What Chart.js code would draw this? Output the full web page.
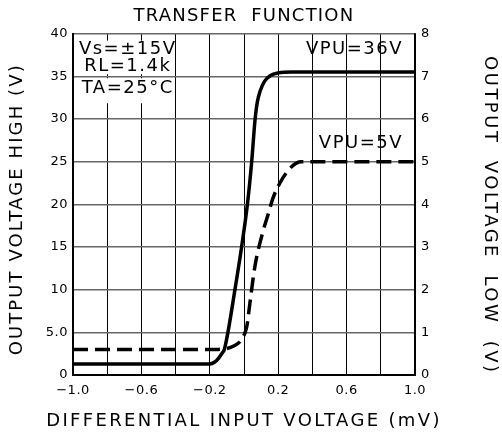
<!DOCTYPE html>
<html>
<head>
<meta charset="utf-8">
<script src="https://cdn.jsdelivr.net/npm/chart.js@4.4.1/dist/chart.umd.min.js"></script>
<style>
  body { margin: 0; background: #fff; }
  #wrap { width: 502px; height: 441px; }
</style>
</head>
<body>
<div id="wrap"><canvas id="grafico"></canvas></div>
<script>
// dados
const xTicks = [-1.0, -0.6, -0.2, 0.2, 0.6, 1.0];
const xTickLabels = ['−1.0', '−0.6', '−0.2', '0.2', '0.6', '1.0'];
const yHighLabels = ['0', '5.0', '10', '15', '20', '25', '30', '35', '40'];
const yLowLabels = ['0', '1', '2', '3', '4', '5', '6', '7', '8'];

// VPU=36V (eixo esquerdo)
const vpu36X = [-1.0, -0.2, -0.16, -0.13, -0.115, -0.094, -0.053, -0.014, 0.02, 0.045, 0.065, 0.078, 0.095, 0.12, 0.155, 0.2, 0.28, 1.0];
const vpu36Y = [1.3, 1.3, 1.7, 2.5, 3.0, 5, 10, 15, 20, 25, 30, 32, 33.3, 34.4, 35.1, 35.4, 35.5, 35.5];

// VPU=5V (eixo direito)
const vpu5X = [-1.0, -0.15, -0.1, -0.06, -0.02, 0.005, 0.018, 0.035, 0.064, 0.11, 0.14, 0.17, 0.21, 0.26, 0.3, 0.33, 1.0];
const vpu5Y = [0.6, 0.6, 0.62, 0.68, 0.8, 0.98, 1.17, 1.7, 2.55, 3.35, 3.75, 4.15, 4.5, 4.8, 4.95, 5.0, 5.0];

const fonte = 'DejaVu Sans';

// espacamento das letras e folga dos titulos dos eixos
const espacoTitulo = { x: '2.35px', yHigh: '2.1px', yLow: '2.5px' };
const folgaTitulo = {
  x: { a: 'left', b: 'right', da: -40, db: 40 },
  yHigh: { a: 'top', b: 'bottom', da: 0, db: 10 },
  yLow: { a: 'top', b: 'bottom', da: 0, db: 22 }
};
const espaco = {
  id: 'espaco',
  beforeDraw(chart) {
    chart.ctx.letterSpacing = '1.2px';
  },
  afterUpdate(chart) {
    Object.values(chart.scales).forEach(s => {
      if (s._espaco) return;
      s._espaco = true;
      const dt = s.drawTitle;
      const dl = s.drawLabels;
      s.drawTitle = function (...a) {
        const old = this.ctx.letterSpacing;
        const f = folgaTitulo[this.id];
        this.ctx.letterSpacing = espacoTitulo[this.id] || '0px';
        this[f.a] += f.da; this[f.b] += f.db;
        dt.apply(this, a);
        this[f.a] -= f.da; this[f.b] -= f.db;
        this.ctx.letterSpacing = old;
      };
      s.drawLabels = function (...a) {
        const old = this.ctx.letterSpacing;
        this.ctx.letterSpacing = '0.5px';
        dl.apply(this, a);
        this.ctx.letterSpacing = old;
      };
    });
  }
};

// textos dentro do grafico
const notas = {
  id: 'notas',
  beforeDatasetsDraw(chart) {
    const ctx = chart.ctx;
    const x = chart.scales.x;
    const y = chart.scales.yHigh;
    const l = x.getPixelForValue(-1.0) + 3;
    const r = x.getPixelForValue(-0.4) - 2;
    const g35 = y.getPixelForValue(35);
    const t = y.getPixelForValue(40) + 7;
    ctx.save();
    ctx.fillStyle = '#fff';
    ctx.fillRect(l, t, r - l, g35 - 2 - t);
    ctx.fillRect(l, g35 + 2, r - l, 25);
    ctx.restore();
  },
  afterDatasetsDraw(chart) {
    const ctx = chart.ctx;
    const x = chart.scales.x;
    const y = chart.scales.yHigh;
    ctx.save();
    ctx.letterSpacing = '1.5px';
    ctx.fillStyle = '#000';
    ctx.font = '18px "' + fonte + '"';
    ctx.textBaseline = 'middle';
    ctx.textAlign = 'center';
    const cx = x.getPixelForValue(-0.68);
    ctx.fillText('Vs=±15V', cx, y.getPixelForValue(38.2));
    ctx.fillText('RL=1.4k', cx, y.getPixelForValue(36.2));
    ctx.fillText('TA=25°C', cx, y.getPixelForValue(33.6));
    ctx.textAlign = 'right';
    const rx = x.getPixelForValue(0.93);
    ctx.fillText('VPU=36V', rx, y.getPixelForValue(38.1));
    ctx.fillText('VPU=5V', rx, y.getPixelForValue(27.2));
    ctx.restore();
  }
};

Chart.defaults.font.family = fonte;
Chart.defaults.color = '#000';

new Chart(document.getElementById('grafico'), {
  type: 'line',
  data: {
    datasets: [{
      label: 'VPU=36V',
      data: vpu36X.map((v, i) => ({ x: v, y: vpu36Y[i] })),
      yAxisID: 'yHigh',
      borderColor: '#000',
      borderWidth: 3.5,
      pointRadius: 0,
      cubicInterpolationMode: 'monotone',
      fill: false
    }, {
      label: 'VPU=5V',
      data: vpu5X.map((v, i) => ({ x: v, y: vpu5Y[i] })),
      yAxisID: 'yLow',
      borderColor: '#000',
      borderWidth: 3.5,
      borderDash: [15, 7],
      pointRadius: 0,
      cubicInterpolationMode: 'monotone',
      fill: false
    }]
  },
  options: {
    responsive: true,
    maintainAspectRatio: false,
    animation: false,
    layout: { padding: 0 },
    plugins: {
      legend: { display: false },
      tooltip: { enabled: false },
      title: {
        display: true,
        fullSize: false,
        text: 'TRANSFER  FUNCTION',
        font: { size: 18, weight: 'normal' },
        color: '#000',
        padding: { top: 6, bottom: 6 }
      }
    },
    scales: {
      x: {
        type: 'linear',
        min: -1.0,
        max: 1.0,
        afterFit(scale) { scale.height = 66; },
        afterBuildTicks(scale) {
          scale.ticks = [];
          for (let i = 0; i <= 10; i++) scale.ticks.push({ value: -1.0 + i * 0.2 });
        },
        ticks: {
          autoSkip: false,
          maxRotation: 0,
          padding: 8,
          font: { size: 13 },
          color: '#000',
          callback(value) {
            const i = xTicks.findIndex(t => Math.abs(t - value) < 1e-6);
            return i >= 0 ? xTickLabels[i] : '';
          }
        },
        grid: { color: '#000', lineWidth: 1, drawTicks: false },
        border: { color: '#000', width: 2 },
        title: {
          display: true,
          text: 'DIFFERENTIAL INPUT VOLTAGE (mV)',
          font: { size: 18 },
          color: '#000',
          padding: { top: 0, bottom: 9 }
        }
      },
      yHigh: {
        type: 'linear',
        position: 'left',
        min: 0,
        max: 40,
        afterFit(scale) { scale.width = 73; },
        ticks: {
          stepSize: 5,
          padding: 5,
          font: { size: 13 },
          color: '#000',
          callback(value) { return yHighLabels[Math.round(value / 5)]; }
        },
        grid: { color: '#666', lineWidth: 1.5, drawTicks: false },
        border: { color: '#000', width: 2 },
        title: {
          display: true,
          text: 'OUTPUT VOLTAGE HIGH (V)',
          font: { size: 18 },
          color: '#000',
          padding: { top: 7, bottom: 0 }
        }
      },
      yLow: {
        type: 'linear',
        position: 'right',
        min: 0,
        max: 8,
        afterFit(scale) { scale.width = 87; },
        ticks: {
          stepSize: 1,
          padding: 6,
          font: { size: 13 },
          color: '#000',
          callback(value) { return yLowLabels[Math.round(value)]; }
        },
        grid: { display: false, drawTicks: false },
        border: { color: '#000', width: 1.5 },
        title: {
          display: true,
          text: 'OUTPUT  VOLTAGE  LOW  (V)',
          font: { size: 18 },
          color: '#000',
          padding: { top: 2, bottom: 0 }
        }
      }
    }
  },
  plugins: [espaco, notas]
});
</script>
</body>
</html>
